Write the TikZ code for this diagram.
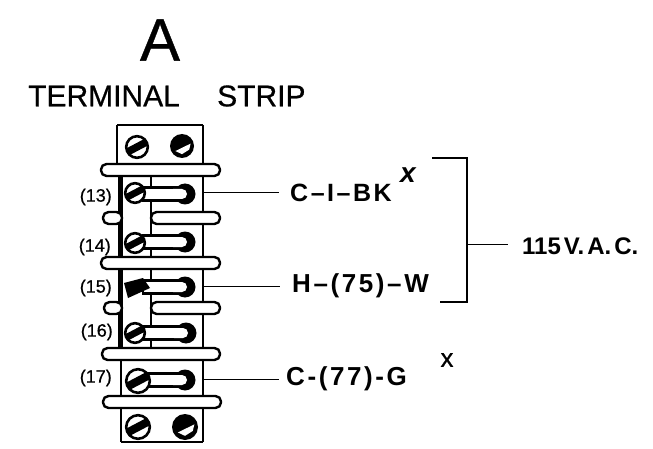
\documentclass[tikz,border=0pt]{standalone}
\usepackage{fontspec}
\setmainfont{Liberation Sans}
\newfontfamily\tightfont[LetterSpace=10]{Liberation Sans}
\newfontfamily\midfont[FakeBold=0.6]{Liberation Sans}
\tikzset{
 line/.style={line width=1pt,black},
 frame/.style={line width=2.6pt,black},
 bar/.style={draw=black,fill=white,line width=2.4pt,rounded corners=5.5pt},
 num/.style={inner sep=0pt,anchor=east,font=\fontsize{18}{18}\selectfont\midfont},
}
\newcommand{\slotscrew}[3]{%
 \draw[black,line width=2.6pt,fill=white] (#1,#2) circle (#3-1.2);
 \draw[black,line width=#3*.62pt] (#1-#3*.8,#2+#3*.42) -- (#1+#3*.8,#2-#3*.42);}
\newcommand{\darkscrew}[3]{%
 \fill[black] (#1,#2) circle (#3);
 \fill[white] (#1-#3*.55,#2+#3*.42) -- (#1+#3*.72,#2-#3*.2) -- (#1+#3*.6,#2+#3*.3) -- (#1,#2+#3*.68) -- cycle;}
\newcommand{\lug}[3]{%
 \draw[black,line width=2.4pt,fill=white] (#1+8,#3-6.5) -- (#2,#3-6.5) -- (#2,#3+6.5) -- (#1+8,#3+6.5) -- cycle;
 \fill[black] (#2,#3) circle (10.5);
 \fill[white] (#2-12,#3-5) -- (#2-3,#3-5) arc (-90:90:5) -- (#2-12,#3+5) -- cycle;}
\begin{document}
\begin{tikzpicture}[x=1pt,y=-1pt]
\useasboundingbox (0,0) rectangle (653,449);
\fill[white] (0,0) rectangle (653,449);
\node[inner sep=0pt,font=\fontsize{60}{60}\selectfont\midfont] (title) at (160,40) {A};
\node[inner sep=0pt,anchor=west,font=\fontsize{30}{30}\selectfont\midfont] (term) at (28,96) {TERMINAL};
\node[inner sep=0pt,anchor=west,font=\fontsize{30}{30}\selectfont\midfont] (stripw) at (217,96) {STRIP};

% body
\draw[frame] (117,125) -- (203,125);
\draw[frame] (117,125) -- (117,165);
\draw[frame] (203,125) -- (203,165);
\draw[line width=5pt] (120,165) -- (120,350);
\draw[frame] (203,165) -- (203,442);
\draw[frame] (121,350) -- (121,442);
\draw[line width=1.8pt] (151,175) -- (151,350);
\draw[frame] (121,442) -- (203,442);

% bars
\draw[bar] (101,164) rectangle (220,176);
\draw[bar] (103,212) -- (122,212) -- (122,224) -- (103,224) -- cycle;
\draw[bar] (151,212) rectangle (220,224);
\draw[bar] (101,257) rectangle (220,269);
\draw[bar] (104,302) -- (122,302) -- (122,314) -- (104,314) -- cycle;
\draw[bar] (151,302) rectangle (220,314);
\draw[bar] (102,348) rectangle (220,360);
\draw[bar] (103,396) rectangle (221,408);

% screws
\slotscrew{137}{147}{12}
\darkscrew{182}{146}{12}
\lug{135}{185}{194}\slotscrew{135}{193}{11}
\lug{135}{185}{242}\slotscrew{135}{243}{11}
\lug{135}{185}{287}
\fill[black] (124,283) -- (143,278) -- (150,288) -- (128,298) -- cycle;
\lug{135}{186}{333}\slotscrew{135}{333}{11}
\lug{138}{185}{380}\slotscrew{138}{381}{13}
\slotscrew{138}{427}{13}
\darkscrew{185}{427}{13}

% numbers
\node[num] (n13) at (112,197) {(13)};
\node[num] (n14) at (111,247) {(14)};
\node[num] (n15) at (112,288) {(15)};
\node[num] (n16) at (113,332) {(16)};
\node[num] (n17) at (112,378) {(17)};

% labels and connectors
\coordinate (t1) at (204,193);
\coordinate (t2) at (204,286);
\coordinate (t3) at (204,379);
\node[anchor=west,inner ysep=0pt,inner xsep=11pt,font=\fontsize{25}{25}\selectfont\bfseries\tightfont] (c1) at (279,193) {C–I–BK};
\node[anchor=west,inner ysep=0pt,inner xsep=12pt,font=\fontsize{26}{26}\selectfont\bfseries\tightfont] (h) at (280,286) {H–(75)–W};
\node[anchor=west,inner ysep=0pt,inner xsep=7pt,font=\fontsize{26}{26}\selectfont\bfseries\tightfont] (c77) at (279,379) {C-(77)-G};
\node[inner sep=0pt,font=\fontsize{28}{28}\selectfont\bfseries\itshape] (x1) at (408,175) {x};
\node[inner sep=0pt,font=\fontsize{26}{26}\selectfont\midfont] (x2) at (447,360) {x};
\node[anchor=west,inner ysep=0pt,inner xsep=14pt,font=\fontsize{24}{24}\selectfont\bfseries] (v) at (508,246) {\spaceskip=3pt\relax 115 V. A. C.};
\draw[line] (t1) -- (c1.west);
\draw[line] (t2) -- (h.west);
\draw[line] (t3) -- (c77.west);
\coordinate (b1) at (432,158);
\coordinate (b2) at (467,158);
\coordinate (b3) at (467,302);
\coordinate (b4) at (440,302);
\coordinate (b5) at (467,244);
\coordinate (b6) at (508,244);
\draw[line,line width=1.3pt] (b1) -- (b2) -- (b3) -- (b4);
\draw[line] (b5) -- (b6);
\end{tikzpicture}
\end{document}
